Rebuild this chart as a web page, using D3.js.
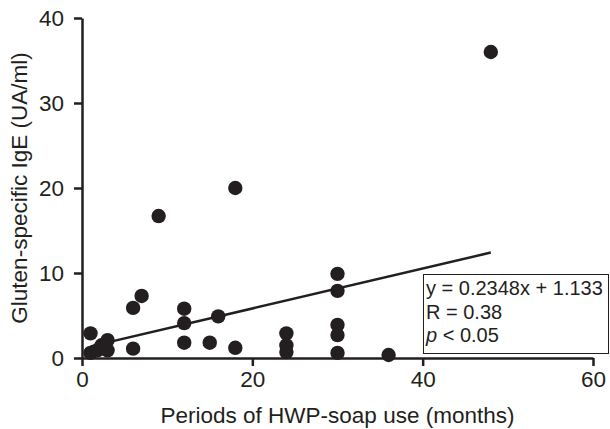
<!DOCTYPE html>
<html>
<head>
<meta charset="utf-8">
<script src="https://cdn.jsdelivr.net/npm/d3@7"></script>
<style>
  body { margin: 0; background: #fff; }
  svg text { font-family: "Liberation Sans", Arial, sans-serif; fill: #231f20; }
</style>
</head>
<body>
<div id="chart"></div>
<script>
// Periods of HWP-soap use (months) vs gluten-specific IgE (UA/ml)
const months = [1, 1, 1.8, 2.3, 3, 3, 6, 6, 7, 9, 12, 12, 12, 15, 16, 18, 18, 24, 24, 24, 30, 30, 30, 30, 30, 36, 48];
const ige = [2.9, 0.6, 0.9, 1.5, 2.1, 0.9, 5.9, 1.1, 7.3, 16.7, 5.8, 4.1, 1.8, 1.8, 4.9, 20, 1.2, 2.9, 1.5, 0.7, 9.9, 7.9, 3.9, 2.7, 0.6, 0.35, 36];

const xTicks = [0, 20, 40, 60];
const yTicks = [0, 10, 20, 30, 40];

// regression from the figure
const slope = 0.2348;
const intercept = 1.133;
const fitRange = [1, 48];
const statLines = ['y = 0.2348x + 1.133', 'R = 0.38', 'p < 0.05'];

const width = 610, height = 429;
const ink = '#231f20';
const fontSize = 22.5;

const svg = d3.select('#chart').append('svg')
    .attr('width', width)
    .attr('height', height);

const x = d3.scaleLinear().domain([0, 60]).range([82, 593]);
const y = d3.scaleLinear().domain([0, 40]).range([358, 18]);

// Axes
const xAxis = svg.append('g')
    .attr('transform', `translate(0,${y(0)})`)
    .call(d3.axisBottom(x).tickValues(xTicks).tickSize(8).tickPadding(5).tickSizeOuter(0));
const yAxis = svg.append('g')
    .attr('transform', `translate(${x(0)},0)`)
    .call(d3.axisLeft(y).tickValues(yTicks).tickSize(8).tickPadding(10).tickSizeOuter(0));

[xAxis, yAxis].forEach(a => {
    a.select('.domain').attr('stroke', ink).attr('stroke-width', 2.5);
    a.selectAll('.tick line').attr('stroke', ink).attr('stroke-width', 2.5);
    a.selectAll('.tick text')
        .attr('font-size', fontSize)
        .attr('font-family', '"Liberation Sans", Arial, sans-serif')
        .attr('fill', ink);
});

// Regression line
svg.append('line')
    .attr('x1', x(fitRange[0]))
    .attr('y1', y(slope * fitRange[0] + intercept))
    .attr('x2', x(fitRange[1]))
    .attr('y2', y(slope * fitRange[1] + intercept))
    .attr('stroke', ink)
    .attr('stroke-width', 2.5);

// Points
svg.append('g')
    .selectAll('circle')
    .data(months.map((m, i) => [m, ige[i]]))
    .enter()
    .append('circle')
    .attr('cx', d => x(d[0]))
    .attr('cy', d => y(d[1]))
    .attr('r', 7.2)
    .attr('fill', ink);

// Stats box
const box = svg.append('g');
box.append('rect')
    .attr('x', 423.5)
    .attr('y', 274.5)
    .attr('width', 185)
    .attr('height', 79)
    .attr('fill', '#fff')
    .attr('stroke', ink)
    .attr('stroke-width', 1);

statLines.forEach((s, i) => {
    const t = box.append('text')
        .attr('x', 426)
        .attr('y', 295 + i * 23.5)
        .attr('font-size', 20);
    if (s.startsWith('p')) {
        t.append('tspan').attr('font-style', 'italic').text('p');
        t.append('tspan').text(s.slice(1));
    } else {
        t.text(s);
    }
});

// Axis titles
svg.append('text')
    .attr('x', (x(0) + x(60)) / 2)
    .attr('y', 423)
    .attr('text-anchor', 'middle')
    .attr('font-size', fontSize)
    .text('Periods of HWP-soap use (months)');

svg.append('text')
    .attr('transform', `translate(27,${(y(0) + y(40)) / 2}) rotate(-90)`)
    .attr('text-anchor', 'middle')
    .attr('font-size', fontSize)
    .text('Gluten-specific IgE (UA/ml)');
</script>
</body>
</html>
